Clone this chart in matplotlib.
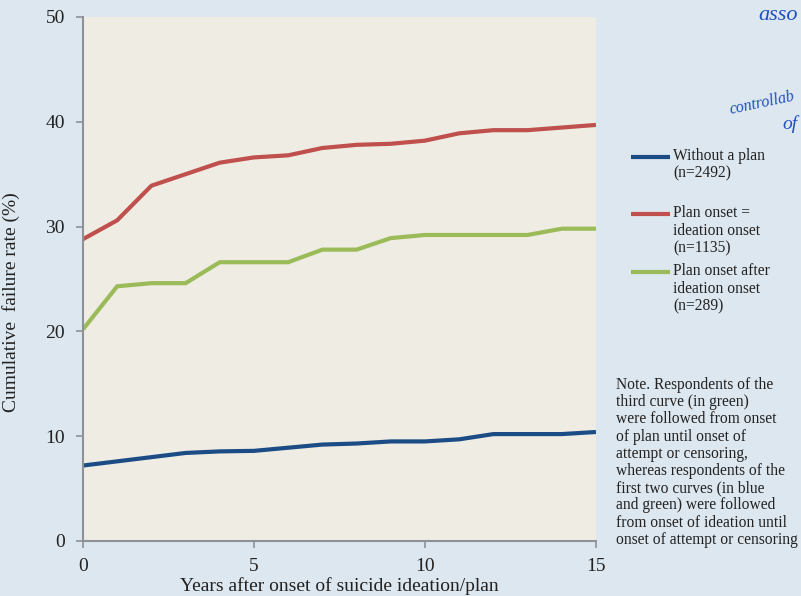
import numpy as np
import matplotlib.pyplot as plt
from matplotlib.lines import Line2D

years = list(range(16))
without_plan = [7.2, 7.6, 8.0, 8.4, 8.55, 8.6, 8.9, 9.2, 9.3, 9.5, 9.5, 9.7, 10.2, 10.2, 10.2, 10.4]
plan_eq_ideation = [28.8, 30.6, 33.9, 35.0, 36.1, 36.6, 36.8, 37.5, 37.8, 37.9, 38.2, 38.9, 39.2, 39.2, 39.45, 39.7]
plan_after_ideation = [20.2, 24.3, 24.6, 24.6, 26.6, 26.6, 26.6, 27.8, 27.8, 28.9, 29.2, 29.2, 29.2, 29.2, 29.8, 29.8]

series_labels = ['Without a plan\n(n=2492)',
                 'Plan onset =\nideation onset\n(n=1135)',
                 'Plan onset after\nideation onset\n(n=289)']
series_colors = ['#1B4C86', '#C0504D', '#9BBB59']

note_text = ('Note. Respondents of the\nthird curve (in green)\nwere followed from onset\n'
             'of plan until onset of\nattempt or censoring,\nwhereas respondents of the\n'
             'first two curves (in blue\nand green) were followed\nfrom onset of ideation until\n'
             'onset of attempt or censoring')

plt.rcParams['font.family'] = ['Liberation Serif', 'DejaVu Serif']

fig = plt.figure(figsize=(8.01, 5.96), dpi=100)
fig.patch.set_facecolor('#DDE7EF')
ax = fig.add_axes([0.1036, 0.0923, 0.6404, 0.8792])
ax.set_facecolor('#EFEDE3')

for vals, c in zip([without_plan, plan_eq_ideation, plan_after_ideation], series_colors):
    ax.plot(years, vals, color=c, lw=3, solid_capstyle='butt', solid_joinstyle='miter')

ax.set_xlim(0, 15)
ax.set_ylim(0, 50)
ax.set_xticks([0, 5, 10, 15])
ax.set_yticks([0, 10, 20, 30, 40, 50])
for s in ['top', 'right']:
    ax.spines[s].set_visible(False)
for s in ['left', 'bottom']:
    ax.spines[s].set_color('#8E9298')
    ax.spines[s].set_linewidth(1.5)
ax.tick_params(colors='#8E9298', labelcolor='#222222', labelsize=14, length=5, width=1.2)
ax.tick_params(axis='x', pad=7)
ax.tick_params(axis='y', pad=8)
ax.set_xlabel('Years after onset of suicide ideation/plan', fontsize=14, color='#222222', labelpad=2)
ax.set_ylabel('Cumulative  failure rate (%)', fontsize=14, color='#222222')
ax.yaxis.set_label_coords(-0.123, 0.456)

# legend, swatch aligned with the first text line
legend_y = [157, 214, 272]
for lab, c, yp in zip(series_labels, series_colors, legend_y):
    yf = 1 - yp / 596
    fig.add_artist(Line2D([631 / 801, 670 / 801], [yf, yf], color=c, lw=3, solid_capstyle='butt'))
    fig.text(673 / 801, yf + 9 / 596, lab, fontsize=11.2, color='#222222', va='top',
             ha='left', linespacing=1.14)

fig.text(616 / 801, 1 - 377 / 596, note_text, fontsize=11.2, color='#222222',
         va='top', ha='left', linespacing=1.1)

# handwritten notes in the corner
fig.text(758 / 801, 1 - 16 / 596, 'asso', fontsize=16, color='#1F4FC0', style='italic', va='center')
fig.text(728 / 801, 1 - 103 / 596, 'controllab', fontsize=11.5, color='#1F4FC0', style='italic',
         va='center', rotation=12)
fig.text(782 / 801, 1 - 124 / 596, 'of', fontsize=14, color='#1F4FC0', style='italic', va='center')

fig.savefig('out.png', dpi=100, facecolor=fig.get_facecolor())
